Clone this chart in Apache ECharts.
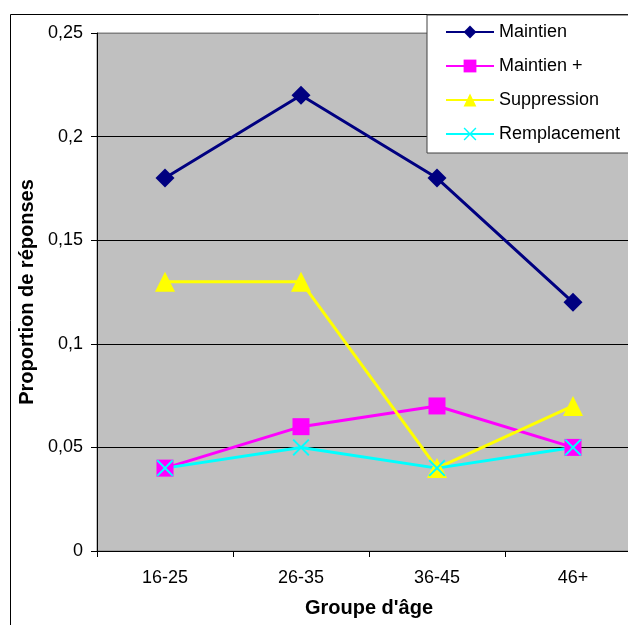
<!DOCTYPE html>
<html>
<head>
<meta charset="utf-8">
<script src="https://cdn.jsdelivr.net/npm/echarts@6/dist/echarts.min.js"></script>
<style>
html,body{margin:0;padding:0;background:#fff;}
#c{width:628px;height:625px;}
</style>
</head>
<body>
<div id="c"></div>
<script>
var categories = ['16-25', '26-35', '36-45', '46+'];
var maintien = [0.18, 0.22, 0.18, 0.12];
var maintienPlus = [0.04, 0.06, 0.07, 0.05];
var suppression = [0.13, 0.13, 0.04, 0.07];
var remplacement = [0.04, 0.05, 0.04, 0.05];
var seriesNames = ['Maintien', 'Maintien +', 'Suppression', 'Remplacement'];

var xPath = 'path://M0,1.6 L1.6,0 L10,8.4 L18.4,0 L20,1.6 L11.6,10 L20,18.4 L18.4,20 L10,11.6 L1.6,20 L0,18.4 L8.4,10 Z';
var FONT = '"Liberation Sans", Arial, sans-serif';

var chart = echarts.init(document.getElementById('c'), null, {renderer: 'canvas'});

function mk(name, data, color, symbol, size) {
  return {
    name: name, type: 'line', data: data, symbol: symbol, symbolSize: size,
    showAllSymbol: true,
    lineStyle: {color: color, width: 3},
    itemStyle: {color: color},
    emphasis: {disabled: true},
    animation: false
  };
}

chart.setOption({
  animation: false,
  textStyle: {fontFamily: FONT},
  graphic: [{
    type: 'rect', shape: {x: 10.5, y: 14.5, width: 700, height: 700},
    style: {fill: 'none', stroke: '#000', lineWidth: 1}, z: -1, silent: true
  }],
  grid: {
    left: 97, width: 544, top: 33, bottom: 74,
    outerBoundsMode: 'none', containLabel: false,
    show: true, backgroundColor: '#C0C0C0', borderColor: '#808080', borderWidth: 1
  },
  legend: {
    data: seriesNames,
    orient: 'vertical',
    left: 427, top: 15,
    padding: [7, 30, 9, 18],
    itemWidth: 48, itemHeight: 16, itemGap: 14,
    backgroundColor: '#fff', borderColor: '#404040', borderWidth: 1,
    textStyle: {fontFamily: FONT, fontSize: 18, color: '#000', lineHeight: 20},
    selectedMode: false
  },
  xAxis: {
    type: 'category', data: categories, boundaryGap: true,
    name: "Groupe d'âge", nameLocation: 'middle', nameGap: 47,
    nameTextStyle: {fontFamily: FONT, fontSize: 20, fontWeight: 'bold', color: '#000'},
    axisLine: {lineStyle: {color: '#000', width: 1}},
    axisTick: {show: true, length: 6, lineStyle: {color: '#000'}},
    axisLabel: {fontFamily: FONT, fontSize: 18, color: '#000', margin: 18},
    splitLine: {show: false}
  },
  yAxis: {
    type: 'value', min: 0, max: 0.25, interval: 0.05,
    name: 'Proportion de réponses', nameLocation: 'middle', nameGap: 58, nameRotate: 90,
    nameTextStyle: {fontFamily: FONT, fontSize: 20, fontWeight: 'bold', color: '#000'},
    axisLine: {show: true, lineStyle: {color: '#000', width: 1}},
    axisTick: {show: true, length: 6, lineStyle: {color: '#000'}},
    axisLabel: {
      fontFamily: FONT, fontSize: 18, color: '#000', margin: 14,
      formatter: function (v) { return String(Math.round(v * 100) / 100).replace('.', ','); }
    },
    splitLine: {show: true, lineStyle: {color: ['#000', '#000', '#000', '#000', '#000', '#808080'], width: 1}}
  },
  series: [
    mk(seriesNames[0], maintien, '#000080', 'diamond', 19),
    mk(seriesNames[1], maintienPlus, '#FF00FF', 'rect', 17),
    mk(seriesNames[2], suppression, '#FFFF00', 'triangle', 20),
    mk(seriesNames[3], remplacement, '#00FFFF', xPath, 17)
  ]
});
</script>
</body>
</html>
